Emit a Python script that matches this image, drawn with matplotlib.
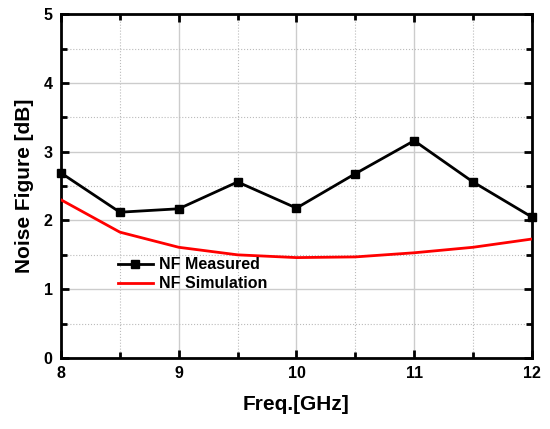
import matplotlib
matplotlib.use("Agg")
import matplotlib.pyplot as plt
from matplotlib.ticker import MultipleLocator

freq = [8.0, 8.5, 9.0, 9.5, 10.0, 10.5, 11.0, 11.5, 12.0]
nf_measured = [2.69, 2.12, 2.17, 2.56, 2.18, 2.68, 3.16, 2.56, 2.05]
nf_sim = [2.30, 1.83, 1.61, 1.50, 1.46, 1.47, 1.53, 1.61, 1.73]

plt.rcParams['font.family'] = ['Liberation Sans', 'DejaVu Sans']
plt.rcParams['font.weight'] = 'bold'

fig = plt.figure(figsize=(5.5, 4.29), dpi=100)
ax = fig.add_axes([0.111, 0.1655, 0.856, 0.8015])

ax.plot(freq, nf_measured, color='black', lw=2, marker='s', ms=6, label='NF Measured', zorder=3, clip_on=False)
ax.plot(freq, nf_sim, color='red', lw=2, label='NF Simulation', zorder=3)

ax.set_xlim(8, 12)
ax.set_ylim(0, 5)
ax.xaxis.set_major_locator(MultipleLocator(1))
ax.xaxis.set_minor_locator(MultipleLocator(0.5))
ax.yaxis.set_major_locator(MultipleLocator(1))
ax.yaxis.set_minor_locator(MultipleLocator(0.5))
ax.grid(which='major', color='#cccccc', lw=1, ls='-')
ax.grid(which='minor', color='#bbbbbb', lw=0.8, ls=':')
ax.set_axisbelow(True)

for s in ax.spines.values():
    s.set_linewidth(2)
ax.tick_params(which='both', direction='in', top=True, right=True, width=2)
ax.tick_params(which='major', length=6, labelsize=11.5, pad=6)
ax.tick_params(which='minor', length=4)
for lab in ax.get_xticklabels() + ax.get_yticklabels():
    lab.set_fontweight('bold')

ax.set_xlabel('Freq.[GHz]', fontsize=15, fontweight='bold', labelpad=10)
ax.set_ylabel('Noise Figure [dB]', fontsize=15, fontweight='bold', labelpad=7)

leg = ax.legend(loc='upper left', bbox_to_anchor=(0.09, 0.335), frameon=False,
                handlelength=2.2, labelspacing=0.25, handletextpad=0.4,
                prop={'weight': 'bold', 'size': 11.5})

fig.savefig('out.png', dpi=100)
